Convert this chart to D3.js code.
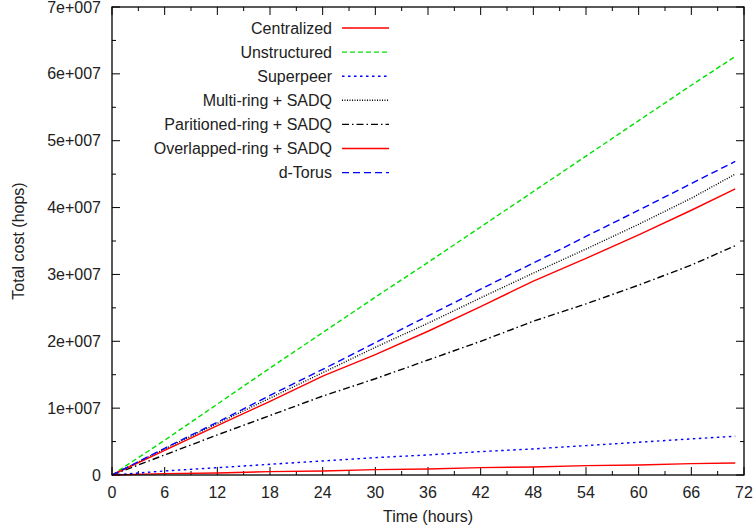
<!DOCTYPE html>
<html><head><meta charset="utf-8">
<script src="https://cdn.jsdelivr.net/npm/d3@7"></script>
<style>body{margin:0;background:#fff}svg{display:block}text{font-family:"Liberation Sans",Arial,sans-serif;font-size:16px;fill:#222}</style>
</head><body><svg id="c" width="756" height="531"></svg>
<script>
const hours = [0,6,12,18,24,30,36,42,48,54,60,66,71];
const centralized = [0,0.02,0.03,0.05,0.06,0.08,0.09,0.11,0.12,0.14,0.15,0.17,0.18];
const unstructured = [0,0.52,1.06,1.60,2.13,2.66,3.18,3.71,4.24,4.77,5.30,5.83,6.26];
const superpeer = [0,0.06,0.11,0.16,0.21,0.26,0.30,0.35,0.39,0.44,0.49,0.54,0.58];
const multiRing = [0,0.39,0.77,1.15,1.53,1.91,2.27,2.65,3.02,3.38,3.75,4.14,4.50];
const partRing = [0,0.30,0.60,0.89,1.18,1.44,1.72,2.00,2.30,2.56,2.84,3.14,3.43];
const overRing = [0,0.37,0.74,1.10,1.48,1.80,2.15,2.52,2.90,3.24,3.59,3.96,4.28];
const dTorus = [0,0.40,0.79,1.19,1.58,1.98,2.38,2.78,3.17,3.57,3.96,4.36,4.69];
const xTicks = [0,6,12,18,24,30,36,42,48,54,60,66,72];
const yTicks = [0,1e7,2e7,3e7,4e7,5e7,6e7,7e7];
const yTickLabels = ["0","1e+007","2e+007","3e+007","4e+007","5e+007","6e+007","7e+007"];

const series = [
  {name:"Centralized", v:centralized, color:"#ff0000", dash:null},
  {name:"Unstructured", v:unstructured, color:"#00e000", dash:"5,3"},
  {name:"Superpeer", v:superpeer, color:"#0000ff", dash:"2.5,3.5"},
  {name:"Multi-ring + SADQ", v:multiRing, color:"#000000", dash:"1,1.5"},
  {name:"Paritioned-ring + SADQ", v:partRing, color:"#000000", dash:"7,3,1.5,3"},
  {name:"Overlapped-ring + SADQ", v:overRing, color:"#ff0000", dash:null},
  {name:"d-Torus", v:dTorus, color:"#0000ff", dash:"7,4"}
];

const svg = d3.select("#c");
const L=112, R=744, T=7, B=475;
const x = d3.scaleLinear().domain([0,72]).range([L,R]);
const y = d3.scaleLinear().domain([0,7e7]).range([B,T]);

const g = svg.append("g").attr("stroke","#000").attr("stroke-width",1);
const xMinor = d3.range(3,72,6);
const yMinor = d3.range(5e6,7e7,1e7);
xTicks.forEach(t=>{g.append("line").attr("x1",x(t)).attr("x2",x(t)).attr("y1",B).attr("y2",B-8);
  g.append("line").attr("x1",x(t)).attr("x2",x(t)).attr("y1",T).attr("y2",T+8);});
xMinor.forEach(t=>{g.append("line").attr("x1",x(t)).attr("x2",x(t)).attr("y1",B).attr("y2",B-4);
  g.append("line").attr("x1",x(t)).attr("x2",x(t)).attr("y1",T).attr("y2",T+4);});
yTicks.forEach(t=>{g.append("line").attr("x1",L).attr("x2",L+8).attr("y1",y(t)).attr("y2",y(t));
  g.append("line").attr("x1",R).attr("x2",R-8).attr("y1",y(t)).attr("y2",y(t));});
yMinor.forEach(t=>{g.append("line").attr("x1",L).attr("x2",L+4).attr("y1",y(t)).attr("y2",y(t));
  g.append("line").attr("x1",R).attr("x2",R-4).attr("y1",y(t)).attr("y2",y(t));});

const line = d3.line().x((d,i)=>x(hours[i])).y(d=>y(d*1e7));
series.forEach(s=>{
  svg.append("path").attr("d",line(s.v)).attr("fill","none").attr("stroke",s.color)
    .attr("stroke-width",1.4).attr("stroke-dasharray",s.dash);
});

svg.append("rect").attr("x",L).attr("y",T).attr("width",R-L).attr("height",B-T)
  .attr("fill","none").attr("stroke","#000").attr("stroke-width",1.3);

xTicks.forEach(t=>svg.append("text").attr("x",x(t)).attr("y",492).attr("dy","0.35em").attr("text-anchor","middle").text(t));
yTicks.forEach((t,i)=>svg.append("text").attr("x",101).attr("y",y(t)).attr("dy","0.35em").attr("text-anchor","end").text(yTickLabels[i]));

svg.append("text").attr("x",428).attr("y",516).attr("dy","0.35em").attr("text-anchor","middle").text("Time (hours)");
svg.append("text").attr("transform","translate(18,241) rotate(-90)").attr("dy","0.35em").attr("text-anchor","middle").text("Total cost (hops)");

series.forEach((s,i)=>{
  const yy = 28 + i*24.1;
  svg.append("text").attr("x",332).attr("y",yy).attr("dy","0.35em").attr("text-anchor","end").text(s.name);
  svg.append("line").attr("x1",342).attr("x2",389).attr("y1",yy).attr("y2",yy)
    .attr("stroke",s.color).attr("stroke-width",1.4).attr("stroke-dasharray",s.dash);
});
</script></body></html>
